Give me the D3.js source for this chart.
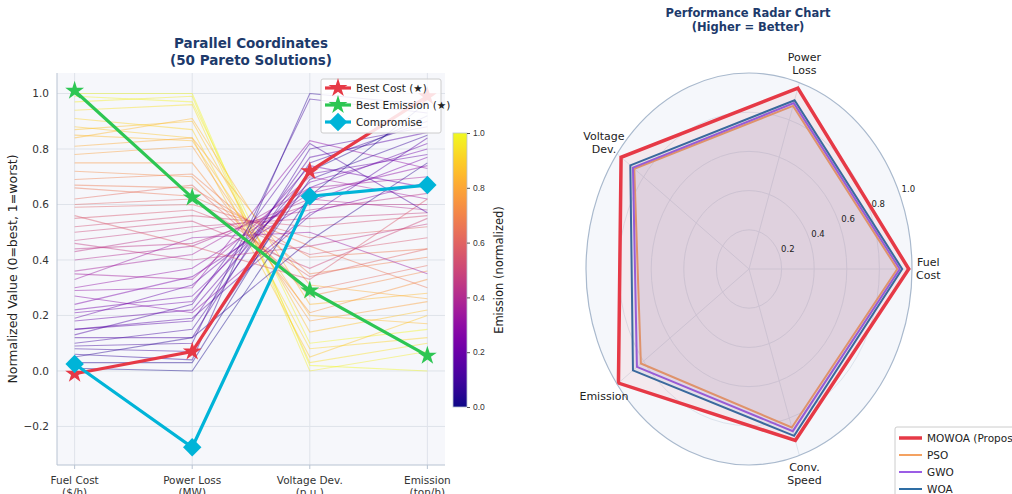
<!DOCTYPE html>
<html>
<head>
<meta charset="utf-8">
<script src="https://cdn.jsdelivr.net/npm/d3@7"></script>
<style>
  body { margin: 0; background: #fff; }
  svg { font-family: "DejaVu Sans", sans-serif; }
</style>
</head>
<body>
<div id="chart"></div>
<script>
// ---- data ----
const axesNames = ["Fuel Cost\n($/h)", "Power Loss\n(MW)", "Voltage Dev.\n(p.u.)", "Emission\n(ton/h)"]

// 50 pareto solutions, normalized (0=best, 1=worst)
const fuelCost   = [1.00, 0.97, 0.94, 0.99, 0.88, 0.87, 0.85, 0.84, 0.81, 0.75, 0.72, 0.69, 0.67, 0.66, 0.60, 0.59, 0.55, 0.52, 0.50, 0.47, 0.44, 0.43, 0.40, 0.36, 0.35, 0.30, 0.29, 0.24, 0.22, 0.21, 0.19, 0.18, 0.15, 0.15, 0.12, 0.10, 0.09, 0.08, 0.06, 0.03, 0.01, 0.62, 0.78, 0.91, 0.46, 0.27, 0.33, 0.56, 0.13, 0.05]
const powerLoss  = [1.00, 0.99, 0.96, 0.97, 0.84, 0.90, 0.83, 0.91, 0.84, 0.75, 0.70, 0.71, 0.66, 0.63, 0.62, 0.60, 0.58, 0.56, 0.54, 0.52, 0.46, 0.50, 0.45, 0.42, 0.33, 0.37, 0.30, 0.34, 0.27, 0.25, 0.31, 0.22, 0.18, 0.19, 0.12, 0.15, 0.10, 0.07, 0.04, 0.03, 0.00, 0.67, 0.81, 0.87, 0.40, 0.21, 0.48, 0.45, 0.24, 0.12]
const voltageDev = [0.02, 0.00, 0.03, 0.10, 0.05, 0.14, 0.20, 0.24, 0.31, 0.21, 0.27, 0.35, 0.41, 0.45, 0.34, 0.48, 0.42, 0.52, 0.37, 0.55, 0.60, 0.58, 0.62, 0.66, 0.70, 0.64, 0.83, 0.61, 0.68, 0.74, 0.66, 0.71, 0.77, 0.56, 0.80, 0.75, 0.98, 0.69, 1.00, 0.72, 0.63, 0.29, 0.18, 0.08, 0.45, 0.57, 0.50, 0.33, 0.82, 0.47]
const emission   = [0.00, 0.07, 0.10, 0.15, 0.20, 0.22, 0.17, 0.28, 0.26, 0.33, 0.36, 0.41, 0.44, 0.30, 0.44, 0.52, 0.48, 0.56, 0.55, 0.57, 0.60, 0.64, 0.58, 0.70, 0.62, 0.74, 0.73, 0.77, 0.80, 0.66, 0.82, 0.78, 0.86, 0.84, 0.88, 0.90, 0.93, 0.85, 0.96, 0.92, 0.97, 0.38, 0.25, 0.12, 0.53, 0.68, 0.35, 0.62, 0.57, 0.75]

const bestCost     = [-0.01, 0.07, 0.72, 0.99]
const bestEmission = [1.01, 0.625, 0.29, 0.055]
const compromise   = [0.025, -0.275, 0.63, 0.67]

const yTicks = [-0.2, 0.0, 0.2, 0.4, 0.6, 0.8, 1.0]
const cbTicks = [0.0, 0.2, 0.4, 0.6, 0.8, 1.0]

// radar
const radarAxes = ["Fuel\nCost", "Power\nLoss", "Voltage\nDev.", "Emission", "Conv.\nSpeed"]
const radarTicks = [0.2, 0.4, 0.6, 0.8, 1.0]
const algos = ["MOWOA (Proposed)", "PSO", "GWO", "WOA"]
const mowoa = [0.98, 0.97, 0.97, 0.99, 0.92]
const pso   = [0.91, 0.875, 0.87, 0.82, 0.85]
const gwo   = [0.925, 0.89, 0.88, 0.85, 0.87]
const woa   = [0.94, 0.905, 0.90, 0.88, 0.895]

const width = 1012, height = 494
const navy = "#1d3a6b"

const svg = d3.select("#chart").append("svg")
    .attr("width", width)
    .attr("height", height)

// ================= parallel coordinates =================
const m = { left: 57, right: 445, top: 73, bottom: 465 }

const x = d3.scaleLinear().domain([-0.15, 3.15]).range([m.left, m.right])
const y = d3.scaleLinear().domain([-0.339, 1.074]).range([m.bottom, m.top])
const color = d3.interpolatePlasma

svg.append("rect")
    .attr("x", m.left).attr("y", m.top)
    .attr("width", m.right - m.left).attr("height", m.bottom - m.top)
    .attr("fill", "#f6f7fb")

// grid
svg.append("g")
    .selectAll("line")
    .data(yTicks)
    .join("line")
    .attr("x1", m.left).attr("x2", m.right)
    .attr("y1", d => y(d)).attr("y2", d => y(d))
    .attr("stroke", "#dfe3ea").attr("stroke-width", 1)

svg.append("g")
    .selectAll("line")
    .data(d3.range(axesNames.length))
    .join("line")
    .attr("x1", d => x(d)).attr("x2", d => x(d))
    .attr("y1", m.top).attr("y2", m.bottom)
    .attr("stroke", "#dfe3ea").attr("stroke-width", 1)

// spines
svg.append("line")
    .attr("x1", m.left).attr("x2", m.left).attr("y1", m.top).attr("y2", m.bottom)
    .attr("stroke", "#b8c3d2")
svg.append("line")
    .attr("x1", m.left).attr("x2", m.right).attr("y1", m.bottom).attr("y2", m.bottom)
    .attr("stroke", "#b8c3d2")

const solutions = fuelCost.map((d, i) => [d, powerLoss[i], voltageDev[i], emission[i]])
const line = d3.line().x((d, i) => x(i)).y(d => y(d))

svg.append("g")
    .selectAll("path")
    .data(solutions)
    .join("path")
    .attr("d", line)
    .attr("fill", "none")
    .attr("stroke", d => color(d[0]))
    .attr("stroke-opacity", 0.45)
    .attr("stroke-width", 1.1)

// highlighted solutions
const highlights = [
    { name: "Best Cost (★)", values: bestCost, color: "#e63946", symbol: "star" },
    { name: "Best Emission (★)", values: bestEmission, color: "#2dc653", symbol: "star" },
    { name: "Compromise", values: compromise, color: "#00b4d8", symbol: "diamond" }
]

function marker(g, h, cx, cy) {
    if (h.symbol == "star") {
        g.append("path")
            .attr("d", d3.symbol(d3.symbolStar, 110)())
            .attr("transform", `translate(${cx},${cy})`)
            .attr("fill", h.color)
    } else {
        g.append("path")
            .attr("d", d3.symbol(d3.symbolSquare, 170)())
            .attr("transform", `translate(${cx},${cy}) rotate(45)`)
            .attr("fill", h.color)
    }
}

highlights.forEach(h => {
    const g = svg.append("g")
    g.append("path")
        .attr("d", line(h.values))
        .attr("fill", "none")
        .attr("stroke", h.color)
        .attr("stroke-width", 3.2)
    h.values.forEach((v, i) => marker(g, h, x(i), y(v)))
})

// y axis
svg.append("g")
    .selectAll("text")
    .data(yTicks)
    .join("text")
    .attr("x", m.left - 8)
    .attr("y", d => y(d))
    .attr("dy", "0.35em")
    .attr("text-anchor", "end")
    .attr("font-size", 10.5)
    .attr("fill", "#333")
    .text(d => d3.format(".1f")(d).replace("-", "−"))

svg.append("text")
    .attr("transform", `translate(17,${(m.top + m.bottom) / 2}) rotate(-90)`)
    .attr("text-anchor", "middle")
    .attr("font-size", 12.5)
    .attr("fill", "#222")
    .text("Normalized Value (0=best, 1=worst)")

// x axis
const xt = svg.append("g")
    .selectAll("g")
    .data(axesNames)
    .join("g")
    .attr("transform", (d, i) => `translate(${x(i)},${m.bottom})`)
xt.append("line").attr("y2", 4).attr("stroke", "#b8c3d2")
xt.append("text")
    .attr("text-anchor", "middle")
    .attr("font-size", 10.5)
    .attr("fill", "#333")
    .selectAll("tspan")
    .data(d => d.split("\n"))
    .join("tspan")
    .attr("x", 0)
    .attr("y", (d, i) => 19 + i * 12)
    .text(d => d)

// title
svg.append("text")
    .attr("x", 251).attr("y", 48)
    .attr("text-anchor", "middle")
    .attr("font-size", 13.5).attr("font-weight", "bold")
    .attr("fill", navy)
    .selectAll("tspan")
    .data(["Parallel Coordinates", "(50 Pareto Solutions)"])
    .join("tspan")
    .attr("x", 251)
    .attr("dy", (d, i) => i ? 17 : 0)
    .text(d => d)

// legend
const lg = svg.append("g").attr("transform", "translate(321,79)")
lg.append("rect")
    .attr("width", 120).attr("height", 54).attr("rx", 2)
    .attr("fill", "#fff").attr("fill-opacity", 0.85)
    .attr("stroke", "#ccc")
highlights.forEach((h, i) => {
    const yy = 9 + i * 17
    lg.append("line")
        .attr("x1", 4).attr("x2", 30).attr("y1", yy).attr("y2", yy)
        .attr("stroke", h.color).attr("stroke-width", 3.2)
    marker(lg, h, 17, yy)
    lg.append("text")
        .attr("x", 35).attr("y", yy).attr("dy", "0.35em")
        .attr("font-size", 10.5).attr("fill", "#222")
        .text(h.name)
})

// colorbar
const cb = { x: 453, y: 133, w: 14, h: 274 }
const grad = svg.append("defs").append("linearGradient")
    .attr("id", "plasma").attr("x1", 0).attr("y1", 1).attr("x2", 0).attr("y2", 0)
grad.selectAll("stop")
    .data(d3.range(0, 1.001, 0.05))
    .join("stop")
    .attr("offset", d => d)
    .attr("stop-color", d => color(d))
svg.append("rect")
    .attr("x", cb.x).attr("y", cb.y).attr("width", cb.w).attr("height", cb.h)
    .attr("fill", "url(#plasma)")
    .attr("stroke", "#b8c3d2").attr("stroke-width", 0.8)
const cbScale = d3.scaleLinear().domain([0, 1]).range([cb.y + cb.h, cb.y])
svg.append("g")
    .attr("transform", `translate(${cb.x + cb.w},0)`)
    .call(d3.axisRight(cbScale).tickValues(cbTicks).tickFormat(d3.format(".1f")).tickSize(3))
    .call(g => g.select(".domain").remove())
    .call(g => g.selectAll("text").attr("font-size", 8.5).attr("fill", "#333"))
    .call(g => g.selectAll("line").attr("stroke", "#555"))
svg.append("text")
    .attr("transform", `translate(503,${cb.y + cb.h / 2}) rotate(-90)`)
    .attr("text-anchor", "middle")
    .attr("font-size", 11.5)
    .attr("fill", "#222")
    .text("Emission (normalized)")

// ================= radar =================
const cx = 749, cy = 269, rx = 163, ry = 196
const n = radarAxes.length
const angle = i => i * 2 * Math.PI / n
const r = d3.scaleLinear().domain([0, 1]).range([0, 1])
const px = (v, i) => cx + r(v) * rx * Math.cos(angle(i))
const py = (v, i) => cy - r(v) * ry * Math.sin(angle(i))

svg.append("ellipse")
    .attr("cx", cx).attr("cy", cy).attr("rx", rx).attr("ry", ry)
    .attr("fill", "#f5f7fb")

svg.append("g")
    .selectAll("ellipse")
    .data(radarTicks.slice(0, -1))
    .join("ellipse")
    .attr("cx", cx).attr("cy", cy)
    .attr("rx", d => r(d) * rx).attr("ry", d => r(d) * ry)
    .attr("fill", "none").attr("stroke", "#dce3ec")

svg.append("g")
    .selectAll("line")
    .data(d3.range(n))
    .join("line")
    .attr("x1", cx).attr("y1", cy)
    .attr("x2", i => px(1, i)).attr("y2", i => py(1, i))
    .attr("stroke", "#dce3ec")

const series = [
    { name: algos[1], values: pso, color: "#f4a261", w: 2 },
    { name: algos[2], values: gwo, color: "#9b5de5", w: 2 },
    { name: algos[3], values: woa, color: "#2e6da4", w: 2 },
    { name: algos[0], values: mowoa, color: "#e63946", w: 3.5 }
]

const radarLine = d3.line()
    .x((d, i) => px(d, i))
    .y((d, i) => py(d, i))
    .curve(d3.curveLinearClosed)

series.forEach(s => {
    svg.append("path")
        .attr("d", radarLine(s.values))
        .attr("fill", s.color).attr("fill-opacity", 0.07)
        .attr("stroke", s.color).attr("stroke-width", s.w)
        .attr("stroke-linejoin", "miter")
})

svg.append("ellipse")
    .attr("cx", cx).attr("cy", cy).attr("rx", rx).attr("ry", ry)
    .attr("fill", "none").attr("stroke", "#a9b9cd").attr("stroke-width", 1.2)

// radial tick labels
svg.append("g")
    .selectAll("text")
    .data(radarTicks)
    .join("text")
    .attr("x", d => cx + r(d) * rx * Math.cos(Math.PI / 8) + 2)
    .attr("y", d => cy - r(d) * ry * Math.sin(Math.PI / 8) - 2)
    .attr("font-size", 8.5)
    .attr("fill", "#222")
    .text(d => d.toFixed(1))

// axis labels
svg.append("g")
    .selectAll("text")
    .data(radarAxes)
    .join("text")
    .attr("text-anchor", "middle")
    .attr("font-size", 11)
    .attr("fill", "#222")
    .each(function (d, i) {
        const parts = d.split("\n")
        const lx = cx + 1.1 * rx * Math.cos(angle(i))
        const ly = cy - 1.1 * ry * Math.sin(angle(i))
        d3.select(this).selectAll("tspan")
            .data(parts)
            .join("tspan")
            .attr("x", lx)
            .attr("y", (p, j) => ly + (j - (parts.length - 1) / 2) * 13)
            .attr("dy", "0.35em")
            .text(p => p)
    })

svg.append("text")
    .attr("x", 748).attr("y", 17)
    .attr("text-anchor", "middle")
    .attr("font-size", 11.5).attr("font-weight", "bold")
    .attr("fill", navy)
    .selectAll("tspan")
    .data(["Performance Radar Chart", "(Higher = Better)"])
    .join("tspan")
    .attr("x", 748)
    .attr("dy", (d, i) => i ? 14 : 0)
    .text(d => d)

// radar legend
const rl = svg.append("g").attr("transform", "translate(895,427)")
rl.append("rect")
    .attr("width", 130).attr("height", 75).attr("rx", 2)
    .attr("fill", "#fff").attr("stroke", "#ccc")
const legendOrder = [series[3], series[0], series[1], series[2]]
legendOrder.forEach((s, i) => {
    const yy = 11 + i * 17
    rl.append("line")
        .attr("x1", 4).attr("x2", 27).attr("y1", yy).attr("y2", yy)
        .attr("stroke", s.color).attr("stroke-width", s.w)
    rl.append("text")
        .attr("x", 32).attr("y", yy).attr("dy", "0.35em")
        .attr("font-size", 10.5).attr("fill", "#222")
        .text(s.name)
})
</script>
</body>
</html>
